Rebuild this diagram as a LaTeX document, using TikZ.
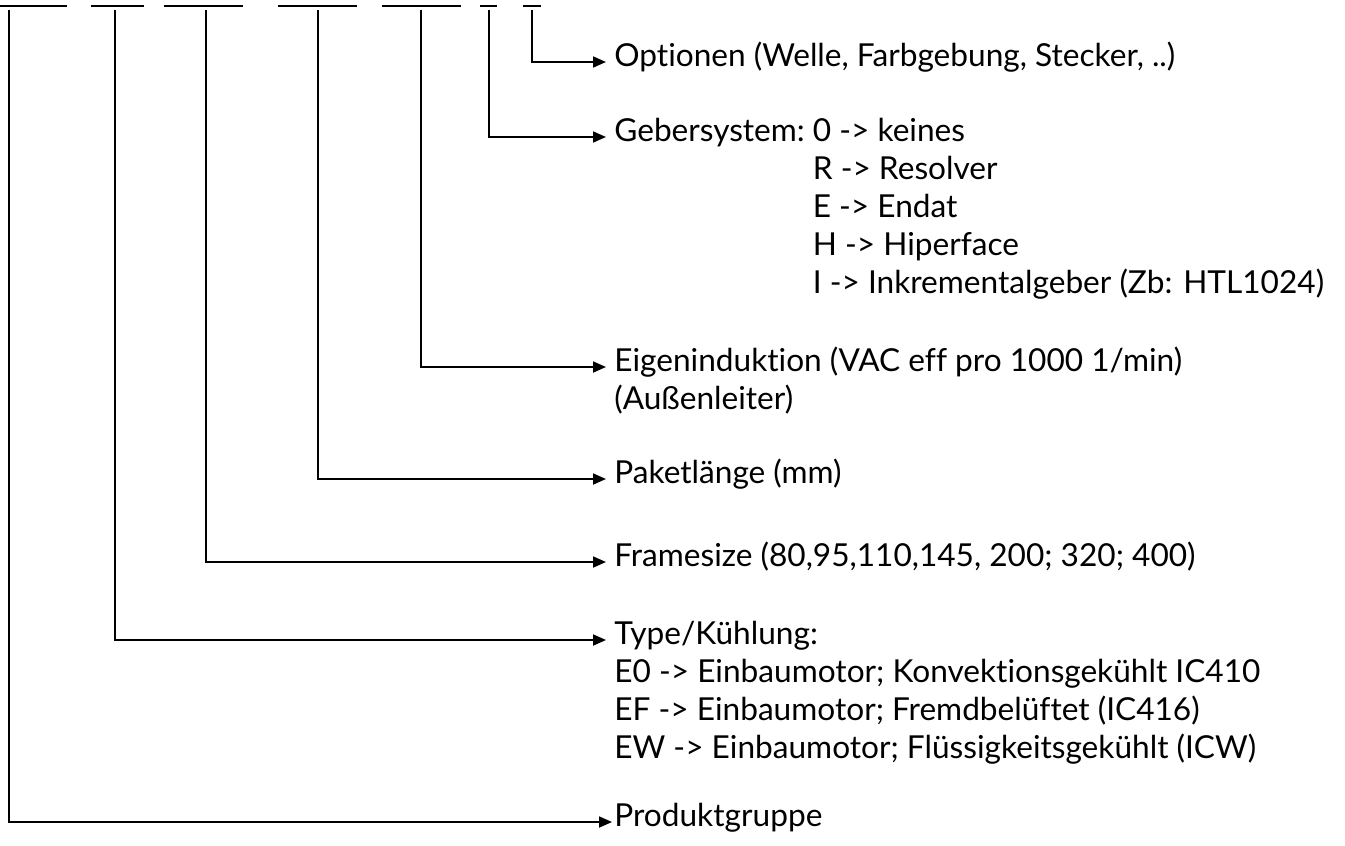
\documentclass[tikz,border=0pt]{standalone}
\usepackage{fontspec}
\setmainfont{Lato}[Ligatures=NoCommon]
\usetikzlibrary{arrows.meta}

\begin{document}
\begin{tikzpicture}[x=0.02cm,y=-0.02cm,
 lab/.style={anchor=mid west,inner xsep=0.16cm,inner ysep=0pt,
  font=\fontsize{18}{21.7}\selectfont},
 pin/.style={line width=1pt,-{Triangle[length=0.26cm,width=0.22cm]}},
 bar/.style={line width=1.2pt}]
\useasboundingbox (0,0) rectangle (1345,845);
% Schlüsselstellen oben
\draw[bar] (0,6)--(67,6);
\draw[bar] (91,6)--(144,6);
\draw[bar] (164,6)--(243,6);
\draw[bar] (278,6)--(357,6);
\draw[bar] (382,6)--(461,6);
\draw[bar] (480,6)--(497,6);
\draw[bar] (523,6)--(541,6);
\coordinate (s1) at (9,10);
\coordinate (s2) at (115,10);
\coordinate (s3) at (206,10);
\coordinate (s4) at (318,10);
\coordinate (s5) at (421,10);
\coordinate (s6) at (489,10);
\coordinate (s7) at (532,10);
% Beschreibungen
\node[lab] (opt) at (606,62) {Optionen (Welle, Farbgebung, Stecker, ..)};
\node[lab] (geber) at (606,137) {\begin{tabular}[t]{@{}l@{\ }l@{}}
Gebersystem: & 0 -> keines\\
& R -> Resolver\\
& E -> Endat\\
& H -> Hiperface\\
& I -> Inkrementalgeber (Zb: HTL1024)\end{tabular}};
\node[lab] (induk) at (606,367) {\begin{tabular}[t]{@{}l@{}}
Eigeninduktion (VAC eff pro 1000 1/min)\\
(Außenleiter)\end{tabular}};
\node[lab] (paket) at (606,479) {Paketlänge (mm)};
\node[lab] (frame) at (606,562) {Framesize (80,95,110,145, 200; 320; 400)};
\node[lab] (typ) at (606,640) {\begin{tabular}[t]{@{}l@{}}
Type/Kühlung:\\
E0 -> Einbaumotor; Konvektionsgekühlt IC410\\
EF -> Einbaumotor; Fremdbelüftet (IC416)\\
EW -> Einbaumotor; Flüssigkeitsgekühlt (ICW)\end{tabular}};
\node[lab,inner xsep=0.04cm] (prod) at (612,822) {Produktgruppe};
% Zuordnung
\draw[pin] (s7)|-(opt.mid west);
\draw[pin] (s6)|-(geber.mid west);
\draw[pin] (s5)|-(induk.mid west);
\draw[pin] (s4)|-(paket.mid west);
\draw[pin] (s3)|-(frame.mid west);
\draw[pin] (s2)|-(typ.mid west);
\draw[pin] (s1)|-(prod.mid west);
\end{tikzpicture}
\end{document}
